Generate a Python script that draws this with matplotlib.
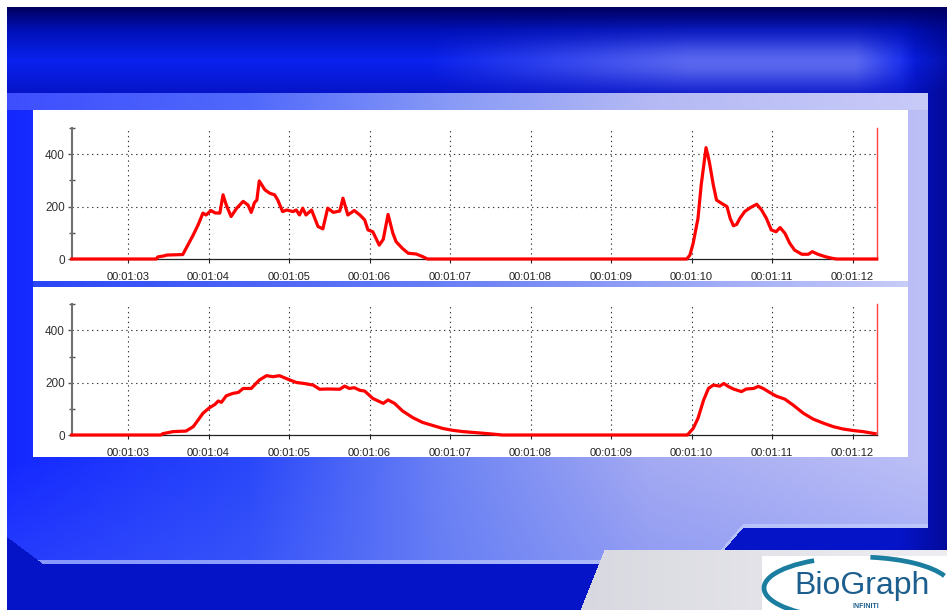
import numpy as np
import matplotlib
matplotlib.use('Agg')
import matplotlib.pyplot as plt
from matplotlib.patches import Arc
from matplotlib.ticker import FixedLocator, FuncFormatter

# top channel (raw-ish EMG), time in seconds
t_top = [62.30, 63.35, 63.37, 63.45, 63.48, 63.68, 63.72, 63.81, 63.87, 63.93,
         63.97, 64.03, 64.08, 64.14, 64.18, 64.22, 64.28, 64.35, 64.43, 64.49,
         64.53, 64.57, 64.60, 64.63, 64.70, 64.76, 64.82, 64.86, 64.92, 64.97,
         65.05, 65.09, 65.13, 65.17, 65.21, 65.28, 65.32, 65.36, 65.42, 65.48,
         65.55, 65.63, 65.67, 65.73, 65.81, 65.88, 65.94, 65.98, 66.04, 66.08,
         66.12, 66.17, 66.23, 66.29, 66.33, 66.41, 66.48, 66.58, 66.66, 66.72,
         69.94, 69.98, 70.02, 70.08, 70.12, 70.18, 70.22, 70.27, 70.31, 70.37,
         70.44, 70.48, 70.52, 70.56, 70.60, 70.66, 70.73, 70.81, 70.87, 70.93,
         70.99, 71.05, 71.10, 71.16, 71.22, 71.28, 71.37, 71.45, 71.50, 71.57,
         71.66, 71.74, 71.80, 72.30]
v_top = [0, 0, 8, 12, 15, 17, 40, 92, 130, 175,
         168, 185, 176, 175, 245, 206, 162, 194, 220, 206,
         178, 215, 225, 298, 264, 251, 245, 225, 181, 187,
         181, 187, 168, 194, 168, 187, 155, 124, 115, 194,
         178, 183, 232, 168, 185, 168, 149, 111, 104, 79,
         53, 75, 170, 98, 66, 40, 22, 19, 9, 0,
         0, 15, 60, 155, 283, 425, 372, 283, 225, 213,
         200, 155, 127, 132, 155, 181, 196, 209, 187, 155,
         111, 104, 120, 98, 60, 34, 18, 18, 28, 18,
         9, 3, 0, 0]

# bottom channel (smoothed envelope)
t_bot = [62.30, 63.41, 63.43, 63.56, 63.72, 63.81, 63.87, 63.93, 64.01, 64.08,
         64.12, 64.16, 64.22, 64.30, 64.37, 64.43, 64.53, 64.63, 64.72, 64.80,
         64.88, 64.99, 65.09, 65.19, 65.30, 65.38, 65.48, 65.63, 65.69, 65.75,
         65.81, 65.88, 65.94, 66.04, 66.17, 66.23, 66.31, 66.41, 66.54, 66.66,
         66.79, 66.91, 67.03, 67.16, 67.28, 67.40, 67.55, 67.65,
         69.95, 69.96, 70.02, 70.08, 70.15, 70.21, 70.27, 70.35, 70.40, 70.46,
         70.52, 70.62, 70.68, 70.77, 70.83, 70.89, 70.97, 71.05, 71.16, 71.26,
         71.39, 71.51, 71.64, 71.76, 71.88, 72.01, 72.13, 72.28]
v_bot = [0, 0, 5, 13, 15, 32, 57, 83, 104, 117,
         130, 125, 150, 159, 163, 178, 178, 210, 227, 223,
         227, 213, 201, 197, 191, 175, 176, 175, 187, 178,
         181, 171, 168, 140, 121, 134, 121, 92, 66, 48,
         36, 25, 18, 13, 10, 7, 3, 0,
         0, 4, 25, 64, 134, 178, 191, 187, 197, 185,
         176, 166, 176, 178, 186, 178, 163, 149, 137, 115,
         83, 61, 45, 32, 23, 17, 13, 5]

x_ticks = [63, 64, 65, 66, 67, 68, 69, 70, 71, 72]
y_major = [0, 200, 400]
y_minor = [100, 300, 500]
x_range = (62.30, 72.30)

W, H = 947, 610


def hexrgb(h):
    h = h.lstrip('#')
    return np.array([int(h[i:i + 2], 16) / 255 for i in (0, 2, 4)])


def hgrad(xs, stops):
    pos = [s[0] for s in stops]
    cols = np.array([hexrgb(s[1]) for s in stops])
    return np.stack([np.interp(xs, pos, cols[:, k]) for k in range(3)], axis=-1)


# ---- background picture (slide frame) ----
yy, xx = np.mgrid[0:H, 0:W].astype(float)
img = np.ones((H, W, 3))

# top dark band
top = hgrad(yy, [(7, '#00005e'), (30, '#0010b8'), (60, '#0a22ee'), (93, '#0614c8')])
glow = np.clip((xx - 430) / 260, 0, 1) * np.clip((915 - xx) / 60, 0, 1) * np.exp(-((yy - 62) / 24) ** 2)
top = top * (1 - 0.55 * glow[..., None]) + hexrgb('#9aa0f2') * 0.55 * glow[..., None]
edge = np.clip((xx - 900) / 47, 0, 1)
top = top * (1 - 0.5 * edge[..., None]) + hexrgb('#00006a') * 0.5 * edge[..., None]
m = (yy >= 7) & (xx >= 7)
img[m] = top[m]

# panel frame with bevelled lower corners
panel = hgrad(xx, [(7, '#1428ff'), (250, '#2a48fa'), (450, '#6e84f4'), (650, '#a4aaf2'), (927, '#bcbff6')])
lower = np.clip((yy - 460) / 100, 0, 1)
panel = panel * (1 - 0.25 * lower[..., None]) + hexrgb('#5a74f6') * 0.25 * lower[..., None]
bottom_edge = np.where(xx < 712, 563, np.where(xx < 743, 563 - (xx - 712) * 36 / 31, 527))
pm = (yy >= 93) & (xx >= 7) & (xx <= 927) & (yy <= bottom_edge) & ((xx - 7) >= (yy - 537) * 35 / 26)
img[pm] = panel[pm]
# light line along the bevel
lm = pm & (yy > bottom_edge - 4)
img[lm] = img[lm] * 0.4 + hexrgb('#c8d4ff') * 0.6

# lighter bar above the top panel
bar = pm & (yy < 110)
img[bar] = img[bar] * 0.82 + 0.18
strip = (yy >= 281) & (yy < 287) & (xx >= 33) & (xx < 908)
img[strip] = hgrad(xx, [(33, '#2a46f6'), (450, '#6a80f4'), (908, '#c8ccf8')])[strip]

# white chart panels
for y0, y1 in [(110, 281), (287, 457)]:
    w = (yy >= y0) & (yy < y1) & (xx >= 33) & (xx < 908)
    img[w] = 1.0

# grey area behind the logo
gm = (yy >= 550) & (xx >= 604 - (yy - 550) * 24 / 60)
img[gm] = hgrad(xx, [(580, '#d8d8e0'), (947, '#eeeef2')])[gm]
img[(yy >= 556) & (xx >= 762)] = 1.0

fig = plt.figure(figsize=(W / 100, H / 100), dpi=100)
bg = fig.add_axes([0, 0, 1, 1])
bg.imshow(img, extent=(0, W, H, 0), interpolation='bilinear')
bg.set_xlim(0, W)
bg.set_ylim(H, 0)
bg.axis('off')

# logo
teal = '#1b7ea0'
bg.add_patch(Arc((858, 588), 188, 62, theta1=92, theta2=212, color=teal, lw=3.4))
bg.add_patch(Arc((858, 588), 188, 62, theta1=292, theta2=352, color=teal, lw=3.4))
bg.text(862, 594, 'BioGraph', color='#1c5f8e', fontsize=23, family='Liberation Sans',
        ha='center', va='baseline')
bg.text(866, 608, 'INFINITI', color='#1c5f8e', fontsize=5, family='Liberation Sans',
        ha='center', va='baseline', fontweight='bold')


def fmt_time(t, pos=None):
    t = int(round(t))
    return f"{t // 3600:02d}:{t // 60 % 60:02d}:{t % 60:02d}"


def chart(rect, t, v):
    ax = fig.add_axes(rect)
    ax.patch.set_alpha(0)
    ax.plot(t, v, color='#ff0000', lw=2.3, clip_on=False, zorder=3, solid_joinstyle='round')
    ax.set_xlim(*x_range)
    ax.set_ylim(0, 500)
    ax.xaxis.set_major_locator(FixedLocator(x_ticks))
    ax.xaxis.set_major_formatter(FuncFormatter(fmt_time))
    ax.yaxis.set_major_locator(FixedLocator(y_major))
    ax.yaxis.set_minor_locator(FixedLocator(y_minor))
    for tx in x_ticks:
        ax.axvline(tx, color='#333333', lw=0.8, ls=(0, (1.2, 3.2)), zorder=1)
    for ty in y_major[1:]:
        ax.axhline(ty, color='#333333', lw=0.8, ls=(0, (1.2, 3.2)), zorder=1)
    ax.spines['top'].set_visible(False)
    ax.spines['right'].set_color('#ff4040')
    ax.spines['right'].set_linewidth(1.0)
    ax.spines['left'].set_color('#707070')
    ax.spines['left'].set_linewidth(1.5)
    ax.spines['bottom'].set_color('#222222')
    ax.spines['bottom'].set_linewidth(0.9)
    ax.tick_params(axis='x', direction='out', length=3, width=0.8, colors='#222222',
                   pad=6, labelsize=8)
    ax.tick_params(axis='y', which='major', direction='out', length=3, width=1,
                   colors='#555555', labelcolor='#333333', pad=2, labelsize=8.5)
    ax.tick_params(axis='y', which='minor', direction='inout', length=5, width=1,
                   colors='#555555')
    for lab in ax.get_xticklabels() + ax.get_yticklabels():
        lab.set_family('Liberation Sans')
    return ax


left = 71.7 / W
width = 805 / W
chart([left, (H - 259) / H, width, 131 / H], t_top, v_top)
chart([left, (H - 435) / H, width, 130.7 / H], t_bot, v_bot)

fig.savefig('out.png', dpi=100)
